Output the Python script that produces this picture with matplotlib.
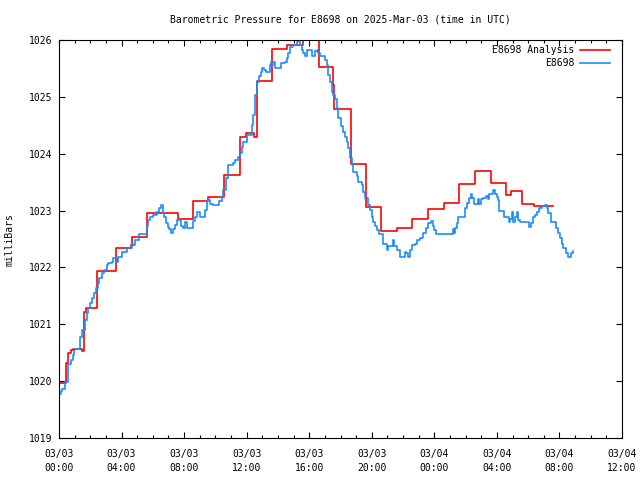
import numpy as np
import matplotlib
matplotlib.use('Agg')
import matplotlib.pyplot as plt

# Analysis (hourly steps), time in hours from 03/03 00:00 UTC
an_t = [0.0, 0.45, 0.6, 0.75, 0.9, 1.5, 1.62, 1.75, 2.42, 3.62, 4.6, 4.68, 5.6, 7.6, 8.6,
        9.5, 10.55, 11.6, 11.95, 12.5, 12.63, 13.6, 14.6, 15.6, 16.6, 17.5, 17.6, 18.7,
        19.6, 20.6, 21.6, 22.6, 23.6, 24.6, 25.6, 26.6, 27.6, 28.6, 28.9, 29.6, 30.4, 31.6]
an_p = [1019.97, 1020.32, 1020.50, 1020.55, 1020.57, 1020.53, 1021.22, 1021.28, 1021.94,
        1022.34, 1022.40, 1022.54, 1022.95, 1022.85, 1023.16, 1023.24, 1023.63, 1024.30,
        1024.36, 1024.30, 1025.28, 1025.84, 1025.92, 1026.00, 1025.53, 1025.20, 1024.79,
        1023.82, 1023.06, 1022.64, 1022.69, 1022.85, 1023.02, 1023.14, 1023.47, 1023.69,
        1023.48, 1023.27, 1023.34, 1023.12, 1023.08, 1023.08]

# Station observations
ob_t = [0.0, 0.13, 0.13, 0.21, 0.21, 0.38, 0.38, 0.53, 0.59, 0.75, 0.88, 0.96, 1.02, 1.34,
        1.34, 1.45, 1.66, 1.77, 1.87, 1.98, 2.13, 2.26, 2.35, 2.47, 2.58, 2.73, 2.90, 3.05,
        3.15, 3.37, 3.43, 3.69, 3.79, 4.01, 4.01, 4.33, 4.54, 4.65, 4.75, 4.86, 5.13, 5.50,
        5.61, 5.71, 5.82, 6.03, 6.25, 6.41, 6.52, 6.63, 6.73, 6.84, 6.95, 7.05, 7.16, 7.27,
        7.42, 7.53, 7.69, 7.78, 7.95, 8.06, 8.20, 8.49, 8.59, 8.70, 8.84, 9.02, 9.23, 9.34,
        9.44, 9.55, 9.66, 9.83, 10.19, 10.25, 10.40, 10.51, 10.68, 10.83, 11.15, 11.25,
        11.46, 11.57, 11.68, 11.78, 12.00, 12.21, 12.32, 12.42, 12.53, 12.68, 12.81, 12.90,
        13.00, 13.11, 13.24, 13.38, 13.49, 13.56, 13.64, 13.70, 13.81, 14.13, 14.18, 14.45,
        14.56, 14.66, 14.77, 14.98, 15.20, 15.30, 15.41, 15.52, 15.62, 15.73, 15.84, 16.05,
        16.16, 16.30, 16.37, 16.48, 16.58, 16.69, 16.94, 17.01, 17.12, 17.22, 17.33, 17.44,
        17.54, 17.65, 17.76, 17.86, 18.01, 18.14, 18.29, 18.40, 18.50, 18.61, 18.72, 18.82,
        19.04, 19.14, 19.36, 19.46, 19.57, 19.78, 19.89, 19.99, 20.10, 20.21, 20.31, 20.48,
        20.74, 20.95, 21.02, 21.27, 21.34, 21.40, 21.59, 21.80, 22.02, 22.12, 22.22, 22.33,
        22.44, 22.55, 22.76, 22.88, 23.09, 23.29, 23.47, 23.61, 23.77, 23.89, 23.98, 24.09,
        25.11, 25.17, 25.26, 25.32, 25.43, 25.53, 25.85, 25.96, 26.07, 26.24, 26.33, 26.43,
        26.56, 26.71, 26.77, 26.88, 26.98, 27.13, 27.30, 27.41, 27.51, 27.66, 27.77, 27.88,
        27.99, 28.09, 28.16, 28.41, 28.48, 28.69, 28.77, 28.84, 28.95, 29.01, 29.16, 29.27,
        29.37, 29.48, 30.01, 30.07, 30.16, 30.29, 30.44, 30.55, 30.71, 30.86, 31.07, 31.18,
        31.29, 31.46, 31.67, 31.78, 31.93, 32.03, 32.14, 32.25, 32.42, 32.57, 32.73, 32.88]
ob_p = [1019.77, 1019.77, 1019.83, 1019.83, 1019.87, 1019.87, 1019.99, 1019.99, 1020.31,
        1020.37, 1020.46, 1020.55, 1020.57, 1020.57, 1020.78, 1020.90, 1021.08, 1021.19,
        1021.28, 1021.37, 1021.46, 1021.55, 1021.63, 1021.72, 1021.81, 1021.90, 1021.95,
        1022.04, 1022.07, 1022.10, 1022.16, 1022.10, 1022.19, 1022.19, 1022.28, 1022.35,
        1022.35, 1022.42, 1022.39, 1022.48, 1022.58, 1022.58, 1022.72, 1022.83, 1022.88,
        1022.92, 1022.98, 1023.04, 1023.10, 1022.95, 1022.88, 1022.78, 1022.71, 1022.68,
        1022.60, 1022.67, 1022.75, 1022.83, 1022.83, 1022.72, 1022.69, 1022.80, 1022.69,
        1022.69, 1022.82, 1022.88, 1022.98, 1022.89, 1022.89, 1023.01, 1023.16, 1023.19,
        1023.12, 1023.10, 1023.10, 1023.16, 1023.24, 1023.36, 1023.57, 1023.80, 1023.83,
        1023.89, 1023.95, 1024.01, 1024.12, 1024.21, 1024.33, 1024.33, 1024.50, 1024.68,
        1025.03, 1025.27, 1025.36, 1025.44, 1025.50, 1025.47, 1025.43, 1025.43, 1025.56,
        1025.61, 1025.56, 1025.62, 1025.50, 1025.50, 1025.59, 1025.62, 1025.68, 1025.77,
        1025.88, 1025.91, 1025.97, 1026.00, 1025.91, 1025.82, 1025.77, 1025.72, 1025.82,
        1025.82, 1025.72, 1025.72, 1025.80, 1025.82, 1025.77, 1025.71, 1025.71, 1025.65,
        1025.56, 1025.38, 1025.27, 1025.09, 1025.03, 1024.97, 1024.80, 1024.62, 1024.48,
        1024.39, 1024.30, 1024.21, 1024.10, 1023.92, 1023.80, 1023.68, 1023.60, 1023.51,
        1023.45, 1023.33, 1023.22, 1023.10, 1023.01, 1022.89, 1022.80, 1022.72, 1022.66,
        1022.58, 1022.42, 1022.31, 1022.38, 1022.38, 1022.48, 1022.38, 1022.31, 1022.19,
        1022.19, 1022.28, 1022.25, 1022.19, 1022.31, 1022.40, 1022.42, 1022.49, 1022.51,
        1022.60, 1022.69, 1022.78, 1022.81, 1022.72, 1022.66, 1022.58, 1022.59, 1022.67,
        1022.60, 1022.69, 1022.79, 1022.89, 1022.89, 1023.04, 1023.14, 1023.22, 1023.29,
        1023.22, 1023.11, 1023.11, 1023.20, 1023.12, 1023.20, 1023.22, 1023.26, 1023.20,
        1023.29, 1023.30, 1023.37, 1023.30, 1023.24, 1023.19, 1022.99, 1022.99, 1022.89,
        1022.89, 1022.80, 1022.86, 1022.97, 1022.80, 1022.89, 1022.97, 1022.83, 1022.80,
        1022.80, 1022.71, 1022.78, 1022.89, 1022.92, 1022.97, 1023.04, 1023.08, 1023.10,
        1023.04, 1022.95, 1022.80, 1022.80, 1022.69, 1022.60, 1022.51, 1022.42, 1022.34,
        1022.26, 1022.18, 1022.25, 1022.29]

x_ticks = list(range(0, 37, 4))
x_labels = ['03/03\n00:00', '03/03\n04:00', '03/03\n08:00', '03/03\n12:00', '03/03\n16:00',
            '03/03\n20:00', '03/04\n00:00', '03/04\n04:00', '03/04\n08:00', '03/04\n12:00']
y_ticks = list(range(1019, 1027))

plt.rcParams['font.family'] = 'DejaVu Sans Mono'
plt.rcParams['font.size'] = 7

fig = plt.figure(figsize=(6.4, 4.8), dpi=100)
ax = fig.add_axes([59/640, 1-438/480, 563/640, 398/480])

ax.plot(an_t, an_p, color='#ff0000', lw=1.2, drawstyle='steps-post')
ax.plot(ob_t, ob_p, color='#1a8cff', lw=1.2, drawstyle='steps-post')

ax.set_xlim(0, 36)
ax.set_ylim(1019, 1026)
ax.set_xticks(x_ticks)
ax.set_xticklabels(x_labels, linespacing=1.5)
ax.set_xticks(range(0, 37), minor=True)
ax.set_yticks(y_ticks)
ax.tick_params(which='both', direction='in', top=True, right=True, width=0.8, color='black')
ax.tick_params(which='major', length=4.5)
ax.tick_params(which='minor', length=2.2)
ax.tick_params(axis='x', pad=8)
ax.tick_params(axis='y', pad=5)
for s in ax.spines.values():
    s.set_linewidth(0.8)

# legend drawn by hand so the labels line up on the right
ax.text(0.915, 0.975, 'E8698 Analysis', transform=ax.transAxes, ha='right', va='center')
ax.plot([0.925, 0.979], [0.975, 0.975], color='#ff0000', lw=1.2, transform=ax.transAxes)
ax.text(0.915, 0.942, 'E8698', transform=ax.transAxes, ha='right', va='center')
ax.plot([0.925, 0.979], [0.942, 0.942], color='#1a8cff', lw=1.2, transform=ax.transAxes)

fig.text(340/640, 1-19/480, 'Barometric Pressure for E8698 on 2025-Mar-03 (time in UTC)',
         ha='center', va='center')
fig.text(10/640, 0.5, 'milliBars', rotation=90, ha='center', va='center')

fig.savefig('out.png', dpi=100)
